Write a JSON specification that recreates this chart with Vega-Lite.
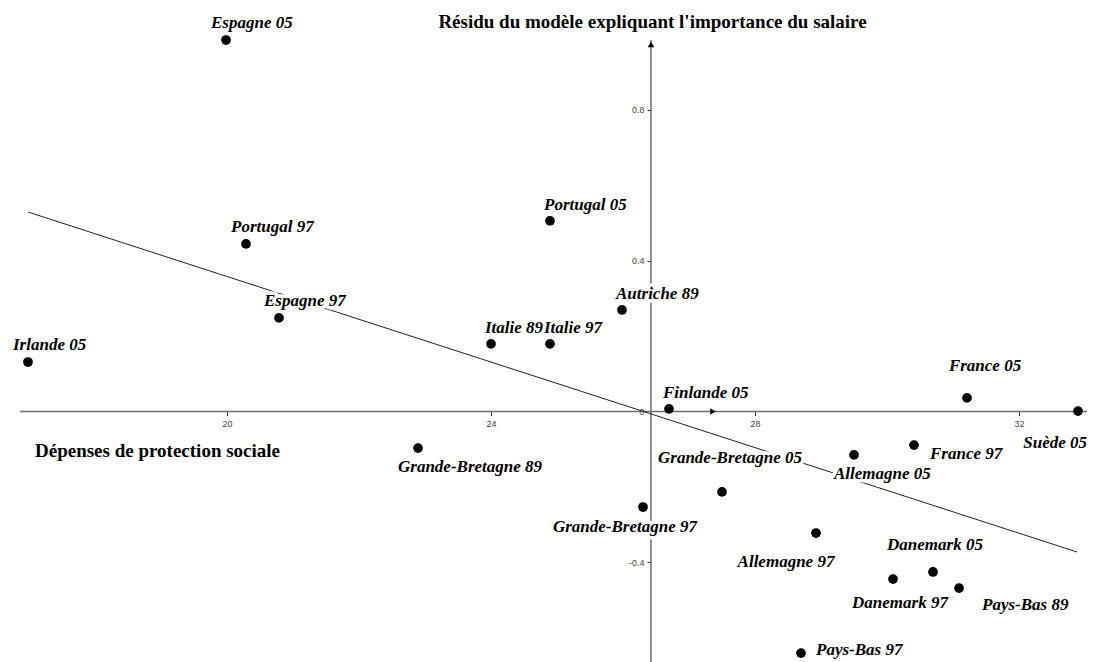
{
  "$schema": "https://vega.github.io/schema/vega-lite/v6.json",
  "width": 1093,
  "height": 662,
  "autosize": "none",
  "padding": 0,
  "background": "white",
  "config": {
    "view": {"stroke": null},
    "text": {"font": "Liberation Serif", "fontSize": 17, "fontStyle": "italic", "fontWeight": "bold", "baseline": "alphabetic"}
  },
  "datasets": {
    "pts": [
      {"name": "Espagne 05", "x": 19.985, "y": 0.984, "pos": "n2"},
      {"name": "Portugal 97", "x": 20.288, "y": 0.444, "pos": "n2"},
      {"name": "Espagne 97", "x": 20.788, "y": 0.248, "pos": "n2"},
      {"name": "Irlande 05", "x": 16.985, "y": 0.131, "pos": "n2"},
      {"name": "Portugal 05", "x": 24.894, "y": 0.505, "pos": "n1"},
      {"name": "Italie 89", "x": 24.0, "y": 0.179, "pos": "n1"},
      {"name": "Italie 97", "x": 24.894, "y": 0.179, "pos": "n1"},
      {"name": "Autriche 89", "x": 25.985, "y": 0.269, "pos": "n1"},
      {"name": "Finlande 05", "x": 26.697, "y": 0.007, "pos": "n1"},
      {"name": "France 05", "x": 31.212, "y": 0.036, "pos": "n3"},
      {"name": "Suède 05", "x": 32.894, "y": 0.001, "pos": "w1"},
      {"name": "Grande-Bretagne 89", "x": 22.894, "y": -0.097, "pos": "s1"},
      {"name": "France 97", "x": 30.409, "y": -0.089, "pos": "e1"},
      {"name": "Allemagne 05", "x": 29.5, "y": -0.115, "pos": "s1"},
      {"name": "Grande-Bretagne 05", "x": 27.5, "y": -0.213, "pos": "n5"},
      {"name": "Grande-Bretagne 97", "x": 26.303, "y": -0.253, "pos": "s2"},
      {"name": "Allemagne 97", "x": 28.924, "y": -0.322, "pos": "s3"},
      {"name": "Danemark 05", "x": 30.697, "y": -0.425, "pos": "n4"},
      {"name": "Danemark 97", "x": 30.091, "y": -0.444, "pos": "s4"},
      {"name": "Pays-Bas 89", "x": 31.091, "y": -0.468, "pos": "e2"},
      {"name": "Pays-Bas 97", "x": 28.697, "y": -0.64, "pos": "e3"}
    ],
    "axes": [
      {"x": 16.864, "y": 0, "x2": 33.03, "y2": 0},
      {"x": 26.424, "y": -0.6636, "x2": 26.424, "y2": 0.984}
    ],
    "fit": [
      {"x": 16.985, "y": 0.5285},
      {"x": 32.879, "y": -0.3722}
    ],
    "arrows": [
      {"x": 27.364, "y": 0, "dir": "right"},
      {"x": 26.424, "y": 0.972, "dir": "up"}
    ]
  },
  "layer": [
    {
      "data": {"name": "axes"},
      "mark": {"type": "rule", "color": "#6b6b6b", "strokeWidth": 1.5},
      "encoding": {
        "x": {
          "field": "x", "type": "quantitative",
          "scale": {"domain": [16.561, 33.121], "nice": false, "zero": false},
          "axis": {
            "offset": -250.5, "values": [20, 24, 28, 32], "domain": false, "grid": false,
            "tickSize": 4, "tickColor": "#333", "tickWidth": 1,
            "labelFont": "Liberation Sans", "labelFontSize": 9, "labelColor": "#444", "labelPadding": 4, "labelFlush": false,
            "labelExpr": "'' + datum.value",
            "title": "Dépenses de protection sociale",
            "titleX": 157, "titleY": 44.5, "titleAlign": "center", "titleBaseline": "alphabetic",
            "titleFont": "Liberation Serif", "titleFontSize": 19, "titleFontWeight": "bold", "titleColor": "#000"
          }
        },
        "y": {
          "field": "y", "type": "quantitative",
          "scale": {"domain": [-0.6636, 1.0901], "nice": false, "zero": false},
          "axis": {
            "offset": -651, "values": [-0.4, 0, 0.4, 0.8], "domain": false, "grid": false,
            "tickSize": 4, "tickColor": "#333", "tickWidth": 1,
            "labelFont": "Liberation Sans", "labelFontSize": 9, "labelColor": "#444", "labelPadding": 3, "labelFlush": false,
            "labelExpr": "'' + datum.value",
            "title": "Résidu du modèle expliquant l'importance du salaire",
            "titleX": 1, "titleY": 27, "titleAngle": 0, "titleAlign": "center", "titleBaseline": "alphabetic",
            "titleFont": "Liberation Serif", "titleFontSize": 19, "titleFontWeight": "bold", "titleColor": "#000"
          }
        },
        "x2": {"field": "x2"},
        "y2": {"field": "y2"}
      }
    },
    {
      "data": {"name": "fit"},
      "mark": {"type": "line", "color": "#222", "strokeWidth": 1},
      "encoding": {
        "x": {"field": "x", "type": "quantitative"},
        "y": {"field": "y", "type": "quantitative"}
      }
    },
    {
      "data": {"name": "arrows"},
      "mark": {"type": "point", "filled": true, "size": 40, "color": "#000", "opacity": 1},
      "encoding": {
        "x": {"field": "x", "type": "quantitative"},
        "y": {"field": "y", "type": "quantitative"},
        "shape": {"field": "dir", "type": "nominal", "scale": {"domain": ["right", "up"], "range": ["triangle-right", "triangle-up"]}, "legend": null}
      }
    },
    {
      "data": {"name": "pts"},
      "encoding": {
        "x": {"field": "x", "type": "quantitative"},
        "y": {"field": "y", "type": "quantitative"}
      },
      "layer": [
        {"transform": [{"filter": "datum.pos == 'n1'"}], "mark": {"type": "text", "align": "left", "dx": -6, "dy": -11, "fill": "white", "stroke": "white", "strokeWidth": 7, "strokeJoin": "round"}, "encoding": {"text": {"field": "name"}}},
        {"transform": [{"filter": "datum.pos == 'n2'"}], "mark": {"type": "text", "align": "left", "dx": -15, "dy": -12, "fill": "white", "stroke": "white", "strokeWidth": 7, "strokeJoin": "round"}, "encoding": {"text": {"field": "name"}}},
        {"transform": [{"filter": "datum.pos == 'n3'"}], "mark": {"type": "text", "align": "center", "dx": 18, "dy": -27, "fill": "white", "stroke": "white", "strokeWidth": 7, "strokeJoin": "round"}, "encoding": {"text": {"field": "name"}}},
        {"transform": [{"filter": "datum.pos == 'n4'"}], "mark": {"type": "text", "align": "center", "dx": 2, "dy": -22, "fill": "white", "stroke": "white", "strokeWidth": 7, "strokeJoin": "round"}, "encoding": {"text": {"field": "name"}}},
        {"transform": [{"filter": "datum.pos == 'n5'"}], "mark": {"type": "text", "align": "center", "dx": 8, "dy": -29, "fill": "white", "stroke": "white", "strokeWidth": 7, "strokeJoin": "round"}, "encoding": {"text": {"field": "name"}}},
        {"transform": [{"filter": "datum.pos == 's1'"}], "mark": {"type": "text", "align": "left", "dx": -20, "dy": 24, "fill": "white", "stroke": "white", "strokeWidth": 7, "strokeJoin": "round"}, "encoding": {"text": {"field": "name"}}},
        {"transform": [{"filter": "datum.pos == 's2'"}], "mark": {"type": "text", "align": "center", "dx": -18, "dy": 25, "fill": "white", "stroke": "white", "strokeWidth": 7, "strokeJoin": "round"}, "encoding": {"text": {"field": "name"}}},
        {"transform": [{"filter": "datum.pos == 's3'"}], "mark": {"type": "text", "align": "center", "dx": -30, "dy": 34, "fill": "white", "stroke": "white", "strokeWidth": 7, "strokeJoin": "round"}, "encoding": {"text": {"field": "name"}}},
        {"transform": [{"filter": "datum.pos == 's4'"}], "mark": {"type": "text", "align": "center", "dx": 7, "dy": 29, "fill": "white", "stroke": "white", "strokeWidth": 7, "strokeJoin": "round"}, "encoding": {"text": {"field": "name"}}},
        {"transform": [{"filter": "datum.pos == 'e1'"}], "mark": {"type": "text", "align": "left", "dx": 16, "dy": 14, "fill": "white", "stroke": "white", "strokeWidth": 7, "strokeJoin": "round"}, "encoding": {"text": {"field": "name"}}},
        {"transform": [{"filter": "datum.pos == 'e2'"}], "mark": {"type": "text", "align": "left", "dx": 23, "dy": 22, "fill": "white", "stroke": "white", "strokeWidth": 7, "strokeJoin": "round"}, "encoding": {"text": {"field": "name"}}},
        {"transform": [{"filter": "datum.pos == 'e3'"}], "mark": {"type": "text", "align": "left", "dx": 15, "dy": 2, "fill": "white", "stroke": "white", "strokeWidth": 7, "strokeJoin": "round"}, "encoding": {"text": {"field": "name"}}},
        {"transform": [{"filter": "datum.pos == 'w1'"}], "mark": {"type": "text", "align": "right", "dx": 9, "dy": 37, "fill": "white", "stroke": "white", "strokeWidth": 7, "strokeJoin": "round"}, "encoding": {"text": {"field": "name"}}},
        {"mark": {"type": "circle", "size": 95, "color": "#000", "opacity": 1}},
        {"transform": [{"filter": "datum.pos == 'n1'"}], "mark": {"type": "text", "align": "left", "dx": -6, "dy": -11, "fill": "#000"}, "encoding": {"text": {"field": "name"}}},
        {"transform": [{"filter": "datum.pos == 'n2'"}], "mark": {"type": "text", "align": "left", "dx": -15, "dy": -12, "fill": "#000"}, "encoding": {"text": {"field": "name"}}},
        {"transform": [{"filter": "datum.pos == 'n3'"}], "mark": {"type": "text", "align": "center", "dx": 18, "dy": -27, "fill": "#000"}, "encoding": {"text": {"field": "name"}}},
        {"transform": [{"filter": "datum.pos == 'n4'"}], "mark": {"type": "text", "align": "center", "dx": 2, "dy": -22, "fill": "#000"}, "encoding": {"text": {"field": "name"}}},
        {"transform": [{"filter": "datum.pos == 'n5'"}], "mark": {"type": "text", "align": "center", "dx": 8, "dy": -29, "fill": "#000"}, "encoding": {"text": {"field": "name"}}},
        {"transform": [{"filter": "datum.pos == 's1'"}], "mark": {"type": "text", "align": "left", "dx": -20, "dy": 24, "fill": "#000"}, "encoding": {"text": {"field": "name"}}},
        {"transform": [{"filter": "datum.pos == 's2'"}], "mark": {"type": "text", "align": "center", "dx": -18, "dy": 25, "fill": "#000"}, "encoding": {"text": {"field": "name"}}},
        {"transform": [{"filter": "datum.pos == 's3'"}], "mark": {"type": "text", "align": "center", "dx": -30, "dy": 34, "fill": "#000"}, "encoding": {"text": {"field": "name"}}},
        {"transform": [{"filter": "datum.pos == 's4'"}], "mark": {"type": "text", "align": "center", "dx": 7, "dy": 29, "fill": "#000"}, "encoding": {"text": {"field": "name"}}},
        {"transform": [{"filter": "datum.pos == 'e1'"}], "mark": {"type": "text", "align": "left", "dx": 16, "dy": 14, "fill": "#000"}, "encoding": {"text": {"field": "name"}}},
        {"transform": [{"filter": "datum.pos == 'e2'"}], "mark": {"type": "text", "align": "left", "dx": 23, "dy": 22, "fill": "#000"}, "encoding": {"text": {"field": "name"}}},
        {"transform": [{"filter": "datum.pos == 'e3'"}], "mark": {"type": "text", "align": "left", "dx": 15, "dy": 2, "fill": "#000"}, "encoding": {"text": {"field": "name"}}},
        {"transform": [{"filter": "datum.pos == 'w1'"}], "mark": {"type": "text", "align": "right", "dx": 9, "dy": 37, "fill": "#000"}, "encoding": {"text": {"field": "name"}}}
      ]
    }
  ]
}
